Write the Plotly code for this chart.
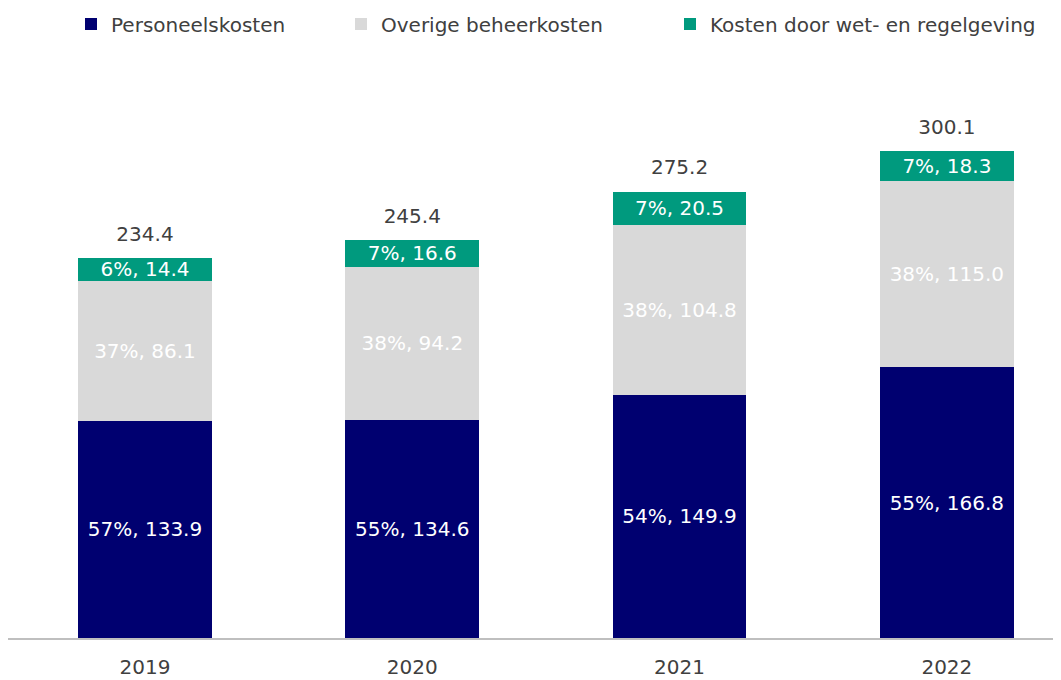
import plotly.graph_objects as go

years = ["2019", "2020", "2021", "2022"]
personeel = [133.9, 134.6, 149.9, 166.8]
overige = [86.1, 94.2, 104.8, 115.0]
wetgeving = [14.4, 16.6, 20.5, 18.3]
pct_personeel = ["57%", "55%", "54%", "55%"]
pct_overige = ["37%", "38%", "38%", "38%"]
pct_wetgeving = ["6%", "7%", "7%", "7%"]
totals = [234.4, 245.4, 275.2, 300.1]

NAVY = "#000070"
GRAY = "#D9D9D9"
TEAL = "#009A7E"
TXT = "#404040"
FONT = "DejaVu Sans"
FS = 20

def labels(p, v):
    return [f"{a}, {b:.1f}" for a, b in zip(p, v)]

fig = go.Figure()
series = [
    ("Personeelskosten", personeel, pct_personeel, NAVY, "legend"),
    ("Overige beheerkosten", overige, pct_overige, GRAY, "legend2"),
    ("Kosten door wet- en regelgeving", wetgeving, pct_wetgeving, TEAL, "legend3"),
]
for name, vals, pcts, col, lg in series:
    fig.add_trace(go.Bar(
        x=years, y=vals, name=name, marker=dict(color=col, line=dict(width=0)),
        text=labels(pcts, vals), textposition="inside", insidetextanchor="middle",
        constraintext="none",
        textfont=dict(color="white", size=FS, family=FONT),
        width=0.5, legend=lg, hoverinfo="skip",
    ))

# totals above the stacks; transparent marker pushes the text up
fig.add_trace(go.Scatter(
    x=years, y=totals, mode="markers+text", text=[f"{t:.1f}" for t in totals],
    marker=dict(size=18, color="rgba(0,0,0,0)"),
    textposition="top center", textfont=dict(color=TXT, size=FS, family=FONT),
    showlegend=False, hoverinfo="skip",
))

W, H = 1053, 672
leg_common = dict(orientation="h", yanchor="middle", yref="container",
                  font=dict(size=FS, family=FONT, color=TXT), itemwidth=30,
                  bgcolor="rgba(0,0,0,0)", xref="container", xanchor="left")
LY = 1 - 16 / H

fig.update_layout(
    barmode="stack",
    width=W, height=H,
    margin=dict(l=0, r=0, t=72, b=42, pad=0),
    paper_bgcolor="white", plot_bgcolor="white",
    font=dict(family=FONT, size=FS, color=TXT),
    legend=dict(**leg_common, x=63 / W, y=LY),
    legend2=dict(**leg_common, x=333 / W, y=LY),
    legend3=dict(**leg_common, x=662 / W, y=LY),
    xaxis=dict(range=[-0.5125, 3.427], showline=True, linecolor="#BFBFBF", linewidth=1.5,
               ticks="outside", ticklen=10, tickcolor="rgba(0,0,0,0)",
               tickfont=dict(size=FS, family=FONT, color=TXT), showgrid=False),
    yaxis=dict(range=[0, 344], visible=False, showgrid=False),
)

fig.write_html("out.html", config={"displayModeBar": False})
